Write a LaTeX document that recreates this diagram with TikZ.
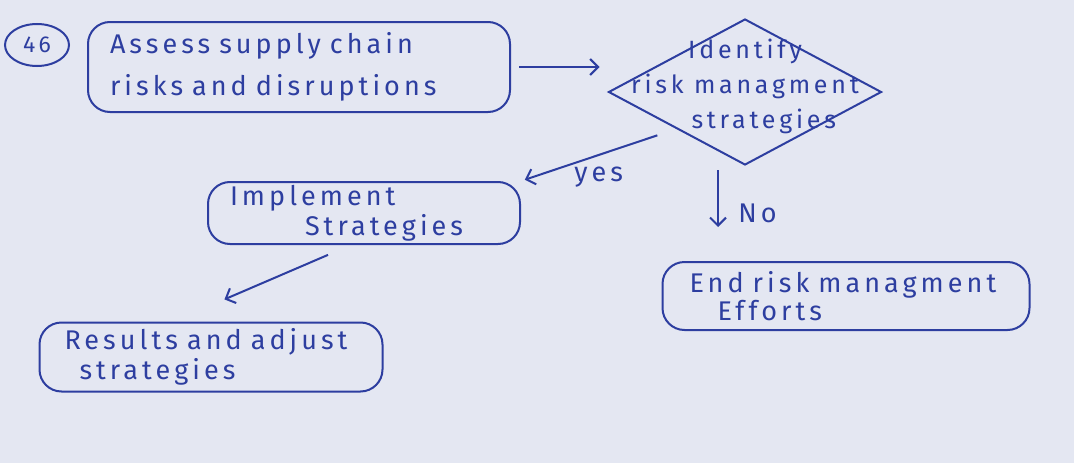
\documentclass[tikz,border=0pt]{standalone}
\usepackage{fontspec}
\setmainfont{Fira Sans}[LetterSpace=15]
\usetikzlibrary{shapes.geometric,arrows.meta}

\definecolor{ink}{RGB}{45,62,160}
\definecolor{paper}{RGB}{228,231,242}

\tikzset{
	flowbox/.style={draw=ink, line width=2pt, rounded corners=22pt, text=ink, align=left, inner sep=0pt},
	decision/.style={draw=ink, line width=2pt, diamond, minimum width=273pt, minimum height=146pt, inner sep=0pt},
	arrowline/.style={draw=ink, line width=2pt, -{Straight Barb[length=8pt, width=16pt]}},
	inktext/.style={text=ink, font=\fontsize{27}{30}\selectfont}
}

\begin{document}
\begin{tikzpicture}[x=1pt, y=-1pt]

		\useasboundingbox[fill=paper] (0,0) rectangle (1074,463);

		% --- Question number ---
		\node[draw=ink, line width=2pt, ellipse, minimum width=64pt, minimum height=42pt, inktext, font=\fontsize{23}{24}\selectfont] (num) at (37,45) {46};

		% --- Boxes ---
		\node[flowbox, minimum width=422pt, minimum height=90pt, text width=378pt, font=\fontsize{27}{42}\selectfont] (assess) at (299,67) {Assess supply chain\\risks and disruptions};
		\node[decision, label={[inktext, align=center, font=\fontsize{25}{35}\selectfont, yshift=6pt]center:{Identify\\risk managment\\\hspace*{1.5em}strategies}}] (identify) at (745,92) {};
		\node[flowbox, minimum width=312pt, minimum height=62pt, text width=268pt, font=\fontsize{27}{30}\selectfont] (implement) at (364,213) {Implement\\\hspace*{75pt}Strategies};
		\node[flowbox, minimum width=343pt, minimum height=69pt, text width=293pt, font=\fontsize{27}{30}\selectfont] (results) at (211,357) {Results and adjust\\\hspace*{15pt}strategies};
		\node[flowbox, minimum width=367pt, minimum height=68pt, text width=313pt, font=\fontsize{27}{28}\selectfont] (endrisk) at (846,296) {End risk managment\\\hspace*{28pt}Efforts};

		% --- Arrows ---
		\draw[arrowline, shorten <=8pt, shorten >=8pt] (assess.east) -- (assess.east -| identify.west);
		\draw[arrowline, shorten <=20pt, shorten >=4pt] (identify.south west) -- (implement.north east) node[midway, below=8pt, inktext] {yes};
		\draw[arrowline, shorten <=25pt, shorten >=56pt] ([xshift=-13pt]implement.south) -- ([xshift=-38pt]results.north);
		\draw[arrowline, shorten <=4pt, shorten >=34pt] ([xshift=-27pt]identify.south) -- ([xshift=-27pt]identify.south |- endrisk.north) node[pos=0.5, right=16pt, inktext] {No};

	\end{tikzpicture}
\end{document}
